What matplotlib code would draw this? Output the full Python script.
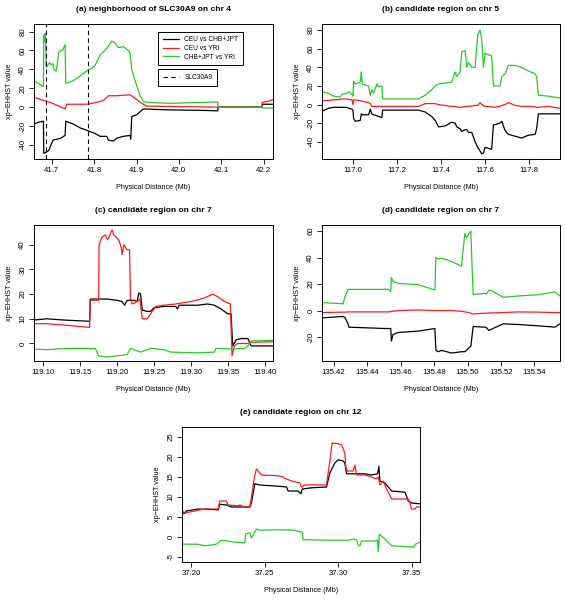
import matplotlib
matplotlib.use("Agg")
import matplotlib.pyplot as plt
from matplotlib.lines import Line2D

plt.rcParams['font.family'] = ['Liberation Sans', 'DejaVu Sans']
plt.rcParams['axes.unicode_minus'] = False

BLK = 'black'
RED = '#ff1a1a'
GRN = '#22cc22'

# ---------------- (a) neighborhood of SLC30A9 on chr 4
a_grn_x = [41.658, 41.6686, 41.6788, 41.6803, 41.681, 41.6827, 41.6843, 41.686, 41.6866, 41.690,
           41.6945, 41.6985, 41.7024, 41.7055, 41.710, 41.7118, 41.7165, 41.7212, 41.726, 41.729,
           41.7314, 41.733, 41.751, 41.7668, 41.7786, 41.785, 41.7943, 41.802, 41.814, 41.8297,
           41.8415, 41.849, 41.857, 41.869, 41.8808, 41.8847, 41.8887, 41.8965, 41.9083, 41.916,
           41.924, 41.979, 42.0577, 42.0915, 42.0923, 42.1953, 42.197, 42.222]
a_grn_y = [28, 25, 22, 22, 76, 70, 78, 60, 42, 44,
           47, 45, 46, 40, 38, 42, 58, 60, 60, 64,
           66, 25, 28, 33, 37, 39, 41, 44, 55, 62,
           70, 68, 63, 64, 60, 57, 40, 28, 12, 6,
           5, 4, 5, 5.5, 0, 0, -1, -1]
a_blk_x = [41.658, 41.6686, 41.6803, 41.681, 41.690, 41.694, 41.698, 41.703, 41.712, 41.7212,
           41.7314, 41.733, 41.751, 41.7668, 41.785, 41.802, 41.814, 41.8297, 41.8336, 41.8454,
           41.853, 41.869, 41.8847, 41.8863, 41.8887, 41.9005, 41.9083, 41.916, 41.979, 42.0577,
           42.0915, 42.0923, 42.1953, 42.197, 42.222]
a_blk_y = [-18, -16, -15, -49, -47, -45, -40, -35, -34, -33,
           -30, -15, -18, -22, -25, -28, -31, -31, -35, -36,
           -33, -31, -30, -34, -10, -8, -5, -2, -3, -3.5,
           -4, 0, 0, 3, 3]
a_red_x = [41.658, 41.6803, 41.6961, 41.7118, 41.7275, 41.7314, 41.7353, 41.751, 41.785, 41.806,
           41.8218, 41.8336, 41.853, 41.8847, 41.9005, 41.9123, 41.924, 42.0, 42.0923, 42.1953,
           42.197, 42.21, 42.222]
a_red_y = [10.5, 7, 5, 2, -1, -2, 3, 3, 3, 5,
           7, 12, 12, 13, 8, 4, 1, 0.5, 0, 0,
           5, 6, 8]
gene_bounds = [41.687, 41.785]

# ---------------- (b) candidate region on chr 5
b_x = [116.8596, 116.8898, 116.9125, 116.9426, 116.950, 116.9728, 116.980, 116.9955, 117.0, 117.003,
       117.0106, 117.0332, 117.0377, 117.0423, 117.071, 117.0785, 117.086, 117.0936, 117.1087, 117.1162,
       117.1313, 117.1343, 117.2974, 117.3275, 117.3577, 117.3728, 117.388, 117.418, 117.448, 117.4634,
       117.471, 117.486, 117.4936, 117.5087, 117.516, 117.524, 117.539, 117.554, 117.566, 117.5766,
       117.584, 117.592, 117.599, 117.629, 117.637, 117.667, 117.675, 117.690, 117.705, 117.735,
       117.765, 117.795, 117.826, 117.833, 117.841, 117.886, 117.939]
b_grn_y = [13.6, 12, 9, 8, 11, 12, 14, 11, 9, 25,
           22, 24, 35, 22, 20, 10, 16, 12, 22, 19,
           20, 6, 6, 10, 16, 20, 22, 23, 24, 35,
           30, 35, 57, 58, 40, 45, 40, 40, 75, 80,
           70, 40, 55, 52, 20, 20, 30, 33, 42, 42,
           40, 36, 33, 30, 10, 9, 7]
b_blk_y = [-7, -4, -3, -3, -3, -3, -4, -5, -6, -15,
           -18, -17, -10, -11, -11, -5, -10, -11, -12, -13,
           -14, -6, -6, -8, -13, -17, -24, -23, -19, -20,
           -24, -26, -29, -27, -27, -30, -30, -40, -46, -50,
           -53, -52, -46, -48, -22, -20, -18, -28, -32, -34,
           -36, -33, -32, -26, -10, -10, -10]
b_red_y = [4, 4.5, 5, 5.5, 6, 6, 5.5, 5, 0, 5,
           5, 4, 4, 3.5, 2, 1, -2, -2, -2, -2,
           -2, -2, -2, 1, 1, 1, 0, -1, -2, -2,
           -2.5, -3, -3, -2, -2, -2, -1.5, -1, -1, 2,
           0, -1, -2, -2.5, -3, -2, -1, 0, 2, -1,
           -2, -2, -2.5, -3, -3, -2, -4]

# ---------------- (c) candidate region on chr 7
c_blk_x = [119.0873, 119.1045, 119.1273, 119.1627, 119.1636, 119.1864, 119.20, 119.2068, 119.21, 119.2136,
           119.2227, 119.2273, 119.2295, 119.2318, 119.2341, 119.2409, 119.2455, 119.25, 119.2636, 119.2795,
           119.2818, 119.2841, 119.3091, 119.3227, 119.3318, 119.3409, 119.35, 119.3545, 119.3568, 119.3614,
           119.3682, 119.3773, 119.3818, 119.4114]
c_blk_y = [9.5, 10, 9.5, 9, 18, 18, 17.5, 17, 15.5, 17.5,
           17.5, 17, 20.5, 20, 13.5, 13, 13, 14.5, 15, 15,
           14, 15.5, 15.5, 16, 15.5, 14, 12, 12, -1, 1.5,
           2, 2, -1, -1]
c_red_x = [119.0873, 119.1045, 119.1273, 119.1627, 119.1636, 119.175, 119.1755, 119.1795, 119.184, 119.1873,
           119.1932, 119.1955, 119.2023, 119.2055, 119.2068, 119.2091, 119.2136, 119.2168, 119.2182, 119.2205,
           119.2273, 119.2309, 119.2341, 119.2409, 119.2455, 119.2523, 119.2636, 119.2795, 119.30, 119.3136,
           119.3227, 119.3295, 119.3364, 119.3455, 119.3536, 119.3559, 119.359, 119.3636, 119.3773, 119.3818,
           119.4114]
c_red_y = [8, 8, 7.5, 6.5, 17.5, 17.5, 40, 43, 44, 42,
           46, 44, 42, 39, 36, 40, 38, 38, 18, 16,
           17, 18, 10, 10, 12, 15, 15.5, 16, 17, 18,
           19, 20, 19, 17, 16, -5, -1, 0, 0, 0.5,
           0.7]
c_grn_x = [119.0873, 119.1045, 119.1318, 119.1705, 119.1727, 119.175, 119.1864, 119.20, 119.2136, 119.2182,
           119.2273, 119.2318, 119.2364, 119.2455, 119.2636, 119.2727, 119.3091, 119.3318, 119.334, 119.3545,
           119.3727, 119.3773, 119.3818, 119.4114]
c_grn_y = [-2.3, -2.5, -2, -2, -3.5, -5, -5.5, -5, -4.5, -2,
           -3, -3.5, -3, -2, -2.5, -3.5, -3.8, -3.5, -2, -2.2,
           -2, -1, 1, 1.3]

# ---------------- (d) candidate region on chr 7
d_x = [135.413, 135.4246, 135.4256, 135.4266, 135.4286, 135.4290, 135.4505, 135.4525, 135.4541, 135.4545,
       135.4555, 135.4585, 135.4705, 135.4805, 135.4811, 135.4825, 135.4845, 135.4905, 135.4964, 135.4984,
       135.4994, 135.5008, 135.5020, 135.5028, 135.5034, 135.5104, 135.5114, 135.5128, 135.5144, 135.5214,
       135.5304, 135.5424, 135.5523, 135.5553]
d_grn_y = [6, 5.2, 5, 10, 16, 16, 16, 16, 14.5, 25,
           22, 20.5, 19.5, 15.5, 40, 39, 39.5, 37, 33.5, 58,
           55, 58, 60, 30, 12, 13, 12.5, 15.5, 15, 10,
           11, 12, 14, 11]
d_blk_y = [-5.5, -4.5, -4.5, -5, -10, -12.5, -13.5, -13.5, -13.5, -23,
           -18, -16.5, -15.5, -13.5, -30, -31, -30, -32, -31, -31,
           -30, -28, -27, -18, -12, -12.5, -13, -15, -14, -10,
           -10.5, -11.5, -12.5, -10]
d_red_y = [-1.5, -1.2, -1.2, -1.2, -1, -1, -1, -1, -0.8, -0.5,
           -0.5, 0, 0.5, 0, 0, 0, 0, 0, -0.5, -1,
           -1.2, -1.5, -2, -2.5, -2.5, -2, -2, -1.8, -1.8, -1.5,
           -1, -1.2, -1.5, -1.5]

# ---------------- (e) candidate region on chr 12
e_red_x = [37.1936, 37.1955, 37.2023, 37.2091, 37.2182, 37.2193, 37.2239, 37.225, 37.2318, 37.233,
           37.2364, 37.2398, 37.2409, 37.2432, 37.2443, 37.2466, 37.2477, 37.2591, 37.2625, 37.2636,
           37.2682, 37.2739, 37.275, 37.2773, 37.2909, 37.292, 37.2943, 37.2959, 37.30, 37.3023,
           37.3045, 37.3052, 37.3064, 37.3102, 37.3114, 37.3125, 37.3182, 37.3227, 37.3261, 37.3273,
           37.3284, 37.3307, 37.333, 37.3364, 37.3477, 37.3489, 37.35, 37.3523, 37.3534, 37.3557]
e_red_y = [6.5, 6, 6.5, 7, 7, 9, 9, 8, 7.8, 8,
           7.5, 7.5, 10, 15.5, 17, 16, 15.5, 15.3, 15, 14.7,
           14, 13.5, 12.5, 13, 13, 13, 19, 23.5, 23.3, 23,
           21, 17.5, 16.5, 16.5, 18, 15.5, 15.5, 15, 14.5, 15,
           13, 14, 12, 9.5, 9.5, 8.5, 7, 7, 7.5, 7.5]
e_blk_x = [37.1936, 37.195, 37.1966, 37.2045, 37.2182, 37.2193, 37.2239, 37.2273, 37.2398, 37.2409,
           37.2432, 37.2466, 37.2591, 37.2648, 37.2659, 37.2727, 37.2745, 37.2755, 37.2818, 37.292,
           37.2943, 37.2977, 37.30, 37.3034, 37.3045, 37.3057, 37.3182, 37.3227, 37.3268, 37.3277,
           37.3284, 37.3318, 37.3364, 37.3455, 37.3477, 37.35, 37.3557]
e_blk_y = [6.8, 5.8, 6.5, 7, 6.8, 8.2, 8, 7.5, 7.5, 8.5,
           13.3, 13, 12.7, 12.5, 11.5, 11.5, 10.8, 12, 12.3, 12.5,
           16, 18.5, 19.3, 19, 18.5, 15.8, 15.8, 15.5, 15.8, 17.7,
           14, 13.5, 11.5, 11.2, 9, 8.5, 8.3]
e_grn_x = [37.1936, 37.2045, 37.2091, 37.2136, 37.217, 37.2205, 37.225, 37.2273, 37.2364, 37.237,
           37.2398, 37.2409, 37.242, 37.2443, 37.2466, 37.2591, 37.2693, 37.2755, 37.2761, 37.2955,
           37.3068, 37.3102, 37.3125, 37.3136, 37.3148, 37.3159, 37.325, 37.3268, 37.3273, 37.328,
           37.3318, 37.3364, 37.35, 37.3511, 37.3527, 37.3557]
e_grn_y = [-1.8, -1.8, -2.2, -2, -1.8, -0.8, -1, -1.2, -1.5, 0.8,
           1, -0.3, 0.5, 2, 1.7, 1.8, 1.7, 1.2, -0.7, -0.8,
           -0.8, -0.5, -0.7, -2, -2.2, -1, -1, -0.8, -3.7, 0.7,
           -0.5, -2.2, -2.5, -2.6, -1.8, -1.3]

W, H = 565, 600
fig = plt.figure(figsize=(W / 100, H / 100), dpi=100)


def make_axes(l, r, t, b):
    return fig.add_axes([l / W, 1 - b / H, (r - l) / W, (b - t) / H])


def style(ax, title, xlim, ylim, xticks, yticks, xfmt):
    ax.set_xlim(*xlim)
    ax.set_ylim(*ylim)
    ax.set_xticks(xticks)
    ax.set_xticklabels([xfmt.format(v) for v in xticks])
    ax.set_yticks(yticks)
    ax.set_yticklabels([str(v) for v in yticks], rotation=90, va='center')
    ax.tick_params(direction='out', length=3.5, width=0.6, labelsize=5.6, pad=2)
    for s in ax.spines.values():
        s.set_linewidth(0.7)
    ax.set_title(title, fontsize=6, fontweight='bold', pad=9.5)
    ax.set_xlabel('Physical Distance (Mb)', fontsize=5.2, labelpad=7.5)
    ax.set_ylabel('xp\u2212EHHST value', fontsize=5.2, labelpad=4.5)


LW = 0.9

# (a)
ax = make_axes(34, 273, 24, 159)
ax.plot(a_blk_x, a_blk_y, color=BLK, lw=LW)
ax.plot(a_red_x, a_red_y, color=RED, lw=LW)
ax.plot(a_grn_x, a_grn_y, color=GRN, lw=LW)
for g in gene_bounds:
    ax.axvline(g, color='black', lw=0.8, ls=(0, (4, 3)))
style(ax, '(a) neighborhood of SLC30A9 on chr 4', (41.658, 42.222), (-55, 88),
      [41.7, 41.8, 41.9, 42.0, 42.1, 42.2], [-40, -20, 0, 20, 40, 60, 80], '{:.1f}')
h1 = [Line2D([], [], color=c, lw=LW) for c in (BLK, RED, GRN)]
leg1 = ax.legend(h1, ['CEU vs CHB+JPT', 'CEU vs YRI', 'CHB+JPT vs YRI'], loc='upper left',
                 bbox_to_anchor=(0.52, 0.943), borderaxespad=0, fontsize=4.8, frameon=True,
                 fancybox=False, edgecolor='black', framealpha=1, handlelength=2.4,
                 labelspacing=0.25, borderpad=0.7, handletextpad=0.8)
leg1.get_frame().set_linewidth(0.7)
ax.add_artist(leg1)
h2 = [Line2D([], [], color='black', lw=0.8, ls=(0, (4, 3)))]
leg2 = ax.legend(h2, ['SLC30A9'], loc='upper left', bbox_to_anchor=(0.52, 0.664),
                 borderaxespad=0, fontsize=4.8, frameon=True, fancybox=False,
                 edgecolor='black', framealpha=1, handlelength=2.4, borderpad=0.7,
                 handletextpad=0.8)
leg2.get_frame().set_linewidth(0.7)

# (b)
ax = make_axes(322, 560, 24, 159)
ax.plot(b_x, b_blk_y, color=BLK, lw=LW)
ax.plot(b_x, b_red_y, color=RED, lw=LW)
ax.plot(b_x, b_grn_y, color=GRN, lw=LW)
style(ax, '(b) candidate region on chr 5', (116.8596, 117.939), (-58.5, 86.5),
      [117.0, 117.2, 117.4, 117.6, 117.8], [-40, -20, 0, 20, 40, 60, 80], '{:.1f}')

# (c)
ax = make_axes(34, 273, 225, 361)
ax.plot(c_blk_x, c_blk_y, color=BLK, lw=LW)
ax.plot(c_red_x, c_red_y, color=RED, lw=LW)
ax.plot(c_grn_x, c_grn_y, color=GRN, lw=LW)
style(ax, '(c) candidate region on chr 7', (119.0873, 119.4114), (-7.1, 48),
      [119.10, 119.15, 119.20, 119.25, 119.30, 119.35, 119.40], [0, 10, 20, 30, 40], '{:.2f}')

# (d)
ax = make_axes(322, 560, 225, 361)
ax.plot(d_x, d_blk_y, color=BLK, lw=LW)
ax.plot(d_x, d_red_y, color=RED, lw=LW)
ax.plot(d_x, d_grn_y, color=GRN, lw=LW)
style(ax, '(d) candidate region on chr 7', (135.413, 135.5553), (-38, 64.5),
      [135.42, 135.44, 135.46, 135.48, 135.50, 135.52, 135.54], [-20, 0, 20, 40, 60], '{:.2f}')

# (e)
ax = make_axes(182, 420, 427, 562)
ax.plot(e_blk_x, e_blk_y, color=BLK, lw=LW)
ax.plot(e_red_x, e_red_y, color=RED, lw=LW)
ax.plot(e_grn_x, e_grn_y, color=GRN, lw=LW)
style(ax, '(e) candidate region on chr 12', (37.1936, 37.3557), (-6.25, 27.5),
      [37.20, 37.25, 37.30, 37.35], [-5, 0, 5, 10, 15, 20, 25], '{:.2f}')

fig.savefig('out.png', dpi=100)
